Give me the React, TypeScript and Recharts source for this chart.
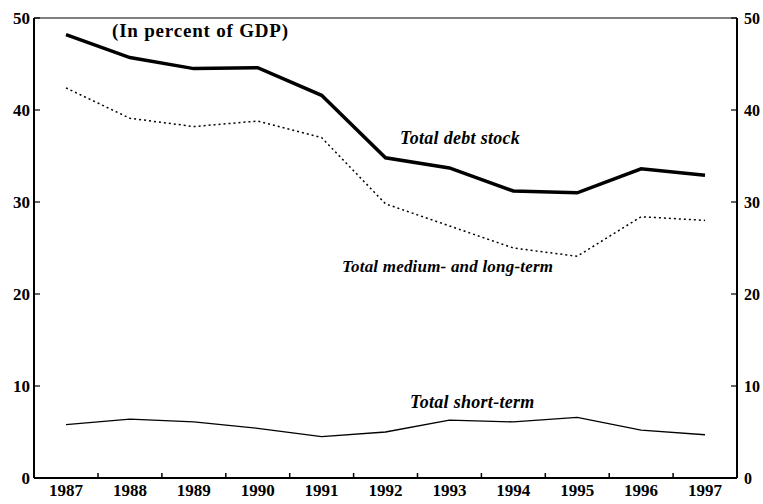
import React from 'react';
import { LineChart, Line, XAxis, YAxis, ReferenceLine } from 'recharts';

// Values (percent of GDP)
const years = ['1987', '1988', '1989', '1990', '1991', '1992', '1993', '1994', '1995', '1996', '1997'];
const totalDebtStock = [48.2, 45.7, 44.5, 44.6, 41.6, 34.8, 33.7, 31.2, 31.0, 33.6, 32.9];
const mediumLongTerm = [42.4, 39.1, 38.2, 38.8, 37.0, 29.8, 27.4, 25.0, 24.1, 28.4, 28.0];
const shortTerm = [5.8, 6.4, 6.1, 5.4, 4.5, 5.0, 6.3, 6.1, 6.6, 5.2, 4.7];
const yTicks = [0, 10, 20, 30, 40, 50];

const data = years.map((year, i) => ({
  year,
  debt: totalDebtStock[i],
  mlt: mediumLongTerm[i],
  st: shortTerm[i],
}));

const FONT = '"Liberation Serif", "DejaVu Serif", serif';
const BAND = 64;

const XTick = (props: any) => {
  const { x, y, payload, index } = props;
  return (
    <g>
      {index < years.length - 1 && (
        <line x1={x + BAND / 2} x2={x + BAND / 2} y1={y - 1} y2={y - 7} stroke="#000" strokeWidth={1.5} />
      )}
      <text x={x} y={y + 16} textAnchor="middle" fontFamily={FONT} fontWeight="bold" fontSize={17} fill="#000">
        {payload.value}
      </text>
    </g>
  );
};

const LeftTick = (props: any) => {
  const { x, y, payload } = props;
  return (
    <g>
      <line x1={x + 4} x2={x + 10} y1={y} y2={y} stroke="#000" strokeWidth={1.2} />
      <text x={x} y={y + 6} textAnchor="end" fontFamily={FONT} fontWeight="bold" fontSize={17} fill="#000">
        {payload.value}
      </text>
    </g>
  );
};

const RightTick = (props: any) => {
  const { x, y, payload } = props;
  return (
    <g>
      <line x1={x - 4} x2={x - 10} y1={y} y2={y} stroke="#000" strokeWidth={1.2} />
      <text x={x + 3} y={y + 6} textAnchor="start" fontFamily={FONT} fontWeight="bold" fontSize={16} fill="#000">
        {payload.value}
      </text>
    </g>
  );
};

const note: React.CSSProperties = {
  position: 'absolute',
  fontFamily: FONT,
  fontWeight: 'bold',
  fontStyle: 'italic',
  fontSize: 18,
  letterSpacing: 0.3,
  color: '#000',
  whiteSpace: 'nowrap',
  lineHeight: 1,
};

export default function App() {
  return (
    <div style={{ position: 'absolute', left: 0, top: 0, width: 763, height: 504, background: '#fff', overflow: 'hidden' }}>
      <LineChart width={763} height={504} data={data} margin={{ top: 18, right: 0, bottom: 0, left: 0 }} style={{ overflow: 'visible' }}>
        <XAxis
          dataKey="year"
          height={26}
          padding={{ left: BAND / 2, right: BAND / 2 }}
          axisLine={{ stroke: '#000', strokeWidth: 2 }}
          tickLine={false}
          tickSize={0}
          interval={0}
          tick={(p: any) => <XTick {...p} />}
        />
        <YAxis
          yAxisId="left"
          width={34}
          domain={[0, 50]}
          ticks={yTicks}
          interval={0}
          axisLine={{ stroke: '#000', strokeWidth: 2 }}
          tickLine={false}
          tickSize={0}
          tickMargin={4}
          tick={(p: any) => <LeftTick {...p} />}
        />
        <YAxis
          yAxisId="right"
          orientation="right"
          width={26}
          domain={[0, 50]}
          ticks={yTicks}
          interval={0}
          axisLine={{ stroke: '#000', strokeWidth: 2 }}
          tickLine={false}
          tickSize={0}
          tickMargin={4}
          tick={(p: any) => <RightTick {...p} />}
        />
        <ReferenceLine yAxisId="left" y={50} stroke="#000" strokeWidth={1.2} />
        <Line
          yAxisId="left"
          dataKey="debt"
          stroke="#000"
          strokeWidth={3.5}
          dot={false}
          isAnimationActive={false}
        />
        <Line
          yAxisId="left"
          dataKey="mlt"
          stroke="#000"
          strokeWidth={1.5}
          strokeDasharray="2 3"
          dot={false}
          isAnimationActive={false}
        />
        {/* same 0-50 scale; tied to the right axis so its ticks get drawn */}
        <Line
          yAxisId="right"
          dataKey="st"
          stroke="#000"
          strokeWidth={1.3}
          dot={false}
          isAnimationActive={false}
        />
      </LineChart>
      <div style={{ ...note, fontStyle: 'normal', fontSize: 19, letterSpacing: 0.8, left: 112, top: 21 }}>(In percent of GDP)</div>
      <div style={{ ...note, left: 400, top: 129 }}>Total debt stock</div>
      <div style={{ ...note, fontSize: 17, letterSpacing: 0.2, left: 342, top: 258 }}>Total medium- and long-term</div>
      <div style={{ ...note, left: 410, top: 393 }}>Total short-term</div>
    </div>
  );
}
